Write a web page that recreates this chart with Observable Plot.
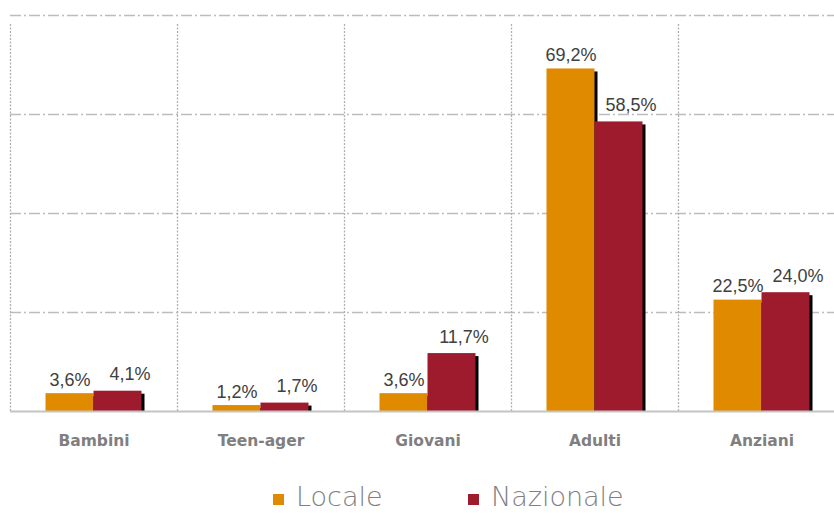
<!DOCTYPE html>
<html>
<head>
<meta charset="utf-8">
<script src="https://cdn.jsdelivr.net/npm/d3@7"></script>
<script src="https://cdn.jsdelivr.net/npm/@observablehq/plot@0.6"></script>
<style>
  html, body { margin: 0; padding: 0; background: #fff; }
  #wrap { position: relative; width: 834px; height: 513px; overflow: hidden; font-family: "DejaVu Sans", sans-serif; }
  .leg { position: absolute; top: 483.5px; display: flex; align-items: center; font-size: 27px; color: #808080; font-weight: 200; line-height: 26px; height: 26px; }
  .sw { width: 11px; height: 11px; margin-right: 12px; margin-top: 6px; }
</style>
</head>
<body>
<div id="wrap"></div>
<script>
const categories = ["Bambini", "Teen-ager", "Giovani", "Adulti", "Anziani"];
const series = ["Locale", "Nazionale"];
const locale = [3.6, 1.2, 3.6, 69.2, 22.5];
const nazionale = [4.1, 1.7, 11.7, 58.5, 24.0];
const yTicks = [20, 40, 60, 80];
const colors = ["#E08A00", "#9E1B2E"];

const fmt = v => v.toFixed(1).replace(".", ",") + "%";
const data = categories.flatMap((c, i) => [
  {cat: c, series: "Locale", value: locale[i]},
  {cat: c, series: "Nazionale", value: nazionale[i]}
]);
const loc = data.filter(d => d.series === "Locale");
const naz = data.filter(d => d.series === "Nazionale");

const x0 = 10, x1 = 845;
const bw = (x1 - x0) / categories.length;
const barW = 48;
const outer = (bw - 2 * barW) / 2;

const plot = Plot.plot({
  width: 834,
  height: 470,
  marginTop: 15,
  marginBottom: 59,
  marginLeft: 10,
  marginRight: 0,
  x: {domain: categories, range: [x0, x1], padding: 0},
  y: {domain: [0, 80], axis: null},
  style: {fontFamily: "DejaVu Sans, sans-serif", background: "#fff"},
  marks: [
    Plot.ruleY(yTicks, {stroke: "#bcbcbc", strokeWidth: 1.5, strokeDasharray: "11,3,2,3"}),
    Plot.ruleX(categories, {x: d => d, y1: 0, y2: 80, dx: -bw / 2, insetBottom: -9, stroke: "#b0b0b0", strokeWidth: 1.3, strokeDasharray: "2,1.5"}),
    // shadows
    Plot.barY(loc, {x: "cat", y: "value", fill: "#000", insetLeft: outer, insetRight: outer + barW, insetTop: 3, dx: 3}),
    Plot.barY(naz, {x: "cat", y: "value", fill: "#000", insetLeft: outer + barW, insetRight: outer, insetTop: 3, dx: 3}),
    // bars
    Plot.barY(loc, {x: "cat", y: "value", fill: colors[0], insetLeft: outer, insetRight: outer + barW}),
    Plot.barY(naz, {x: "cat", y: "value", fill: colors[1], insetLeft: outer + barW, insetRight: outer}),
    Plot.ruleY([0], {stroke: "#c4c4c4", strokeWidth: 2}),
    Plot.text(loc, {x: "cat", y: "value", text: d => fmt(d.value), dx: -barW / 2, dy: -8, lineAnchor: "bottom", fontSize: 18, fontFamily: "Liberation Sans, sans-serif", fill: "#404040"}),
    Plot.text(naz, {x: "cat", y: "value", text: d => fmt(d.value), dx: barW / 2 + 12, dy: -11, lineAnchor: "bottom", fontSize: 18, fontFamily: "Liberation Sans, sans-serif", fill: "#404040"}),
    Plot.axisX({tickSize: 0, tickPadding: 23, fontSize: 15.5, fontWeight: "bold", fill: "#7f7f7f", label: null})
  ]
});

const wrap = document.getElementById("wrap");
wrap.appendChild(plot);

const legendPos = [273, 468];
series.forEach((s, i) => {
  const el = document.createElement("div");
  el.className = "leg";
  el.style.left = legendPos[i] + "px";
  const sw = document.createElement("div");
  sw.className = "sw";
  sw.style.background = colors[i];
  const t = document.createElement("span");
  t.textContent = s;
  el.appendChild(sw);
  el.appendChild(t);
  wrap.appendChild(el);
});
</script>
</body>
</html>
